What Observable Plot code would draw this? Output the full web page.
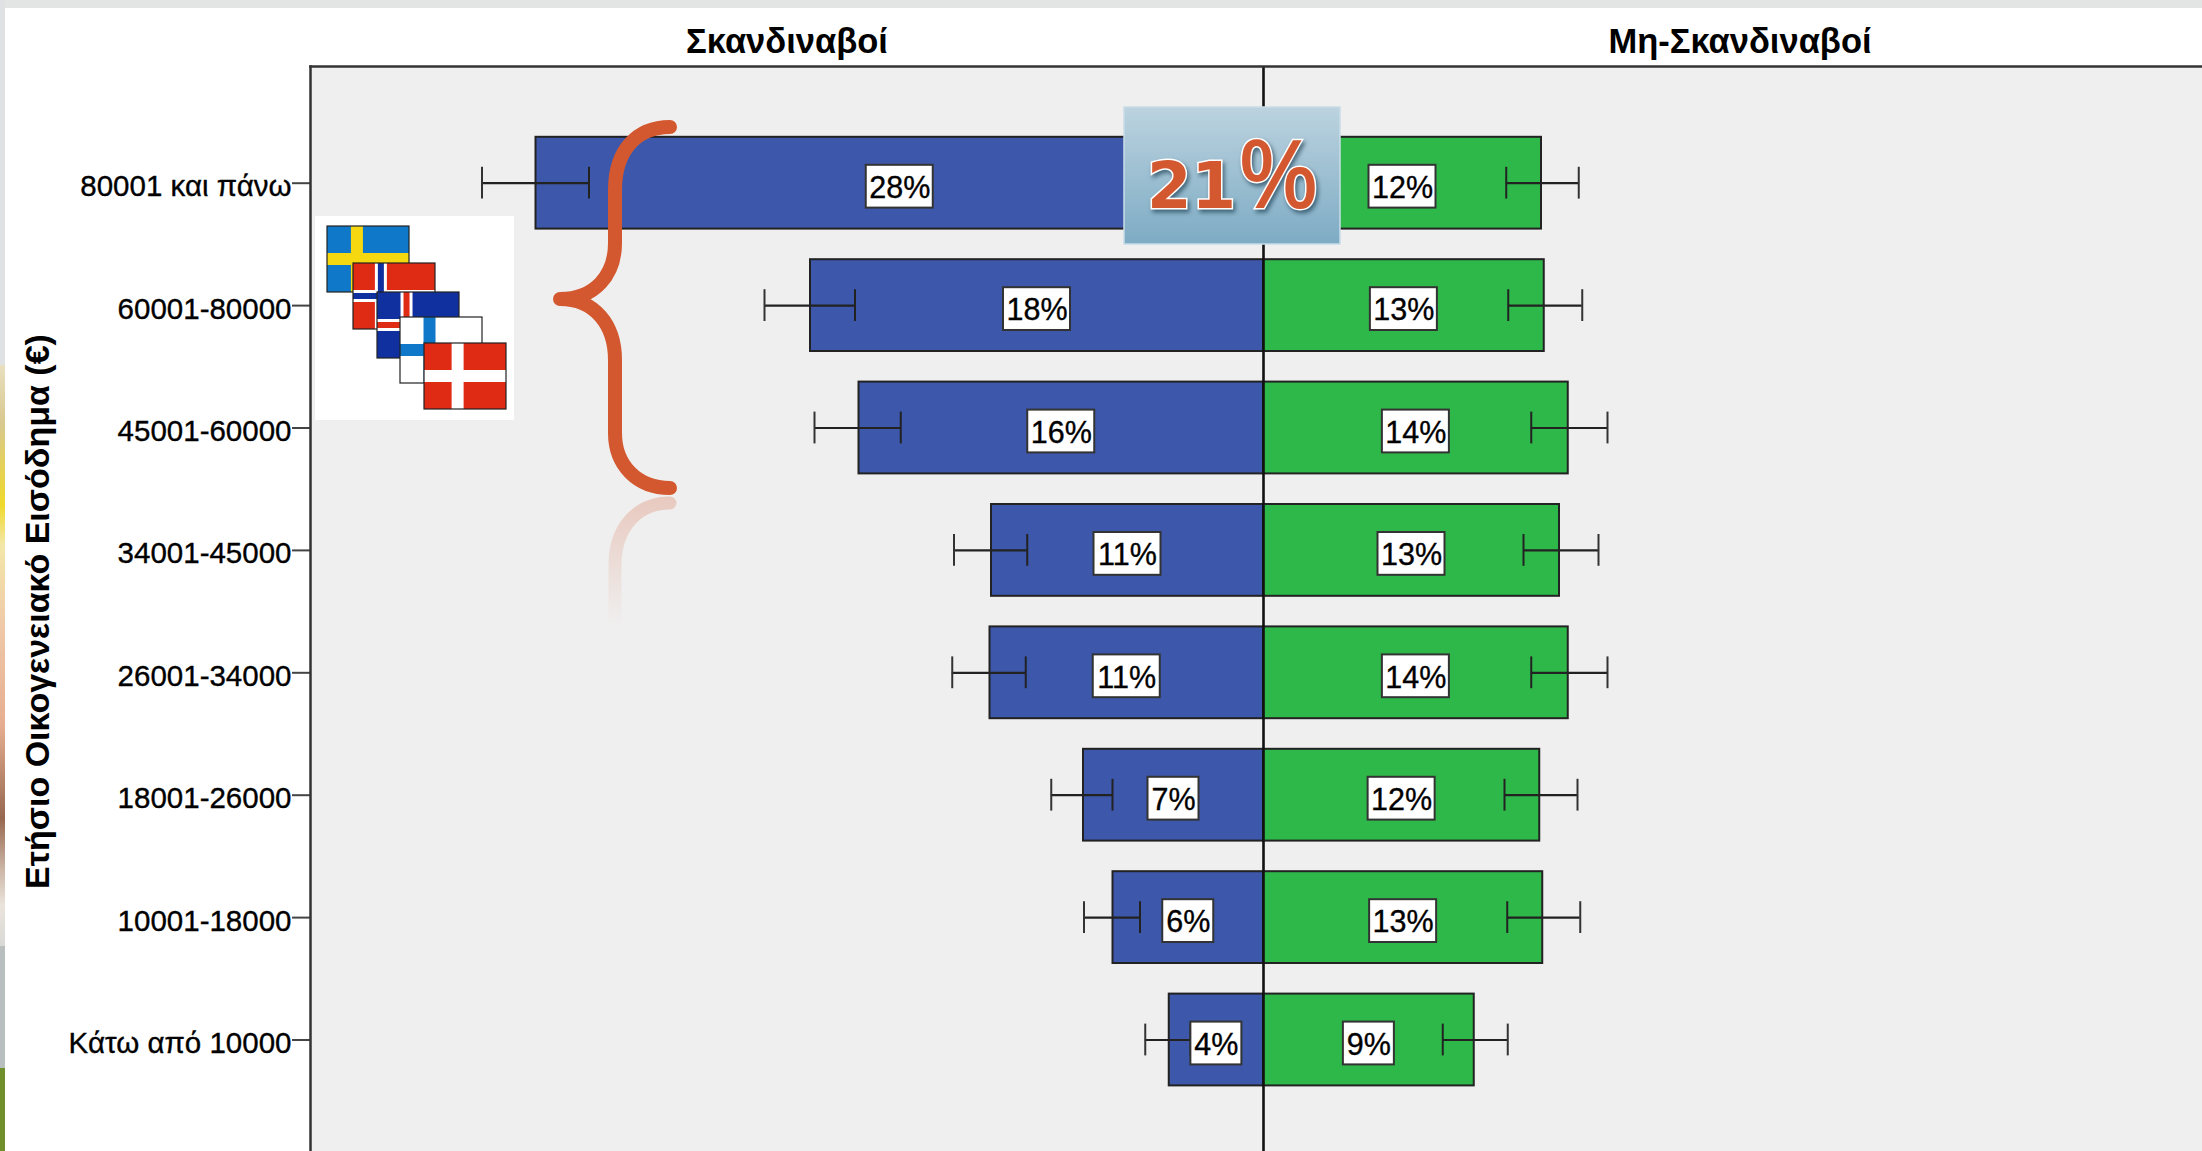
<!DOCTYPE html>
<html>
<head>
<meta charset="utf-8">
<script src="https://cdn.jsdelivr.net/npm/d3@7"></script>
<script src="https://cdn.jsdelivr.net/npm/@observablehq/plot@0.6"></script>
<style>
html,body{margin:0;padding:0;background:#fff;overflow:hidden}
svg{display:block}
</style>
</head>
<body>
<div id="chart"></div>
<script>
const incomeBands = ["80001 και πάνω","60001-80000","45001-60000","34001-45000","26001-34000","18001-26000","10001-18000","Κάτω από 10000"];
const headers = ["Σκανδιναβοί","Μη-Σκανδιναβοί"];
const yTitle = "Ετήσιο Οικογενειακό Εισόδημα (€)";

const nordicBars   = [291,181.2,161.8,108.8,109.4,72,60.2,37.7];
const nordicInner  = [269.8,163.4,145.1,94.5,95.1,60.4,49.4,29.2];
const nordicOuter  = [312.6,199.6,179.6,123.8,124.5,84.9,71.8,47.3];
const nordicLabels = ["28%","18%","16%","11%","11%","7%","6%","4%"];

const otherBars    = [111.2,112.3,121.9,118.4,121.9,110.5,111.7,84.3];
const otherInner   = [97.1,97.9,107.1,104,107.1,96.4,97.5,71.7];
const otherOuter   = [126.1,127.5,137.6,134,137.6,125.6,126.7,97.7];
const otherLabels  = ["12%","13%","14%","13%","14%","12%","13%","9%"];

const axisMax = 381.2;
const FONT = '"Liberation Sans", Arial, sans-serif';

const nordic = incomeBands.map((band,i)=>({band,value:-nordicBars[i],lo:-nordicInner[i],hi:-nordicOuter[i],label:nordicLabels[i]}));
const other  = incomeBands.map((band,i)=>({band,value:otherBars[i],lo:otherInner[i],hi:otherOuter[i],label:otherLabels[i]}));
const rows = nordic.concat(other);
const headerRows = headers.map((text,i)=>({text,x:(i?1:-1)*axisMax/2}));

function decor(){
  const g = d3.create("svg:g");
  const defs = g.append("defs");
  const grad = (id,stops,attrs)=>{
    const l = defs.append("linearGradient").attr("id",id).attr("x1",0).attr("x2",0).attr("y1",0).attr("y2",1);
    if(attrs) for(const k in attrs) l.attr(k,attrs[k]);
    stops.forEach(([o,c,a])=>l.append("stop").attr("offset",o).attr("stop-color",c).attr("stop-opacity",a==null?1:a));
  };
  grad("boxGrad",[[0,"#bcd3df"],[1,"#7dabc4"]]);
  grad("fade",[[0,"#d4582f",.25],[.45,"#d4582f",.14],[1,"#d4582f",0]],{gradientUnits:"userSpaceOnUse",x1:0,x2:0,y1:497,y2:625});
  grad("side",[[0,"#e9dfc0"],[.1,"#d8c88f"],[.24,"#efd92a"],[.31,"#f3e7a8"],[.45,"#efc9a8"],[.62,"#e6ae90"],[.78,"#96684f"],[.87,"#cdb7a8"],[.93,"#eae4dc"],[1,"#d9d9d6"]]);

  // page edges
  const rect=(x,y,w,h,f)=>g.append("rect").attr("x",x).attr("y",y).attr("width",w).attr("height",h).attr("fill",f);
  rect(0,0,2202,8,"#e3e5e5");
  rect(0,0,5,365,"#dfe1e3");
  rect(0,365,5,581,"url(#side)");
  rect(0,946,5,122,"#b9bfbf");
  rect(0,1068,5,83,"#6f8f2a");

  // flags
  rect(315,216,199,204,"#fff");
  const flag=(x,y,bg,outer,inner,vx,hy)=>{
    const w=82,h=66, f=g.append("g").attr("transform",`translate(${x},${y})`);
    const r=(a,b,c,d,col)=>f.append("rect").attr("x",a).attr("y",b).attr("width",c).attr("height",d).attr("fill",col);
    r(0,0,w,h,bg);
    r(vx*w-6,0,12,h,outer); r(0,hy*h-6,w,12,outer);
    if(inner){ r(vx*w-3,0,6,h,inner); r(0,hy*h-3,w,6,inner); }
    f.append("rect").attr("width",w).attr("height",h).attr("fill","none").attr("stroke","#222").attr("stroke-width",1.2);
  };
  flag(327,226,"#1078c8","#f5d80f",null,.365,.5);
  flag(353,263,"#df2a14","#fff","#10309f",.34,.5);
  flag(377,292,"#10309f","#fff","#df2a14",.36,.5);
  flag(400,317,"#fff","#1078c8",null,.36,.5);
  flag(424,343,"#df2a14","#fff",null,.41,.5);

  // brace and reflection
  g.append("path").attr("fill","none").attr("stroke","url(#fade)").attr("stroke-width",13).attr("stroke-linecap","round")
    .attr("d","M670,503 C637,503 615,528 615,565 L615,650");
  g.append("path").attr("fill","none").attr("stroke","#d4582f").attr("stroke-width",14).attr("stroke-linecap","round").attr("stroke-linejoin","round")
    .attr("d","M670,127 C637,127 615,150 615,190 L615,243 C615,275 595,299 560,299 C595,299 615,325 615,360 L615,433 C615,465 637,488 670,488");

  // 21% tile
  g.append("rect").attr("x",1124).attr("y",107).attr("width",216).attr("height",137).attr("fill","url(#boxGrad)").attr("stroke","#c9dde7").attr("stroke-width",1.5);
  const t = g.append("text").attr("x",1147).attr("y",208).attr("text-anchor","start").attr("fill","#d4582f").attr("stroke","#fff").attr("stroke-width",3)
    .attr("paint-order","stroke").style("filter","drop-shadow(2px 3px 2px rgba(0,35,55,.55))")
    .attr("font-family",'"DejaVu Sans"').attr("font-weight","bold").attr("font-size",64);
  t.append("tspan").text("21");
  t.append("tspan").attr("dx",2).attr("font-family",'"Noto Sans"').attr("font-weight","500").attr("font-size",95).text("%");
  return g.node();
}

const barStyle = {stroke:"#222",strokeWidth:2};
const boxStyle = {fill:"#fff",stroke:"#333",strokeWidth:2,insetTop:28,insetBottom:21};

const chart = Plot.plot({
  width:2202,height:1151,
  marginLeft:310,marginTop:66,marginRight:0,marginBottom:0,
  style:{fontFamily:FONT,background:"#fff",color:"#000"},
  x:{domain:[-axisMax,axisMax],range:[310,2216],axis:null},
  y:{domain:incomeBands,range:[106.2,1116],padding:.25,round:false,axis:null},
  marks:[
    Plot.frame({fill:"#efefef",stroke:"none"}),
    Plot.barX(nordic,{x:"value",y:"band",fill:"#3d58aa",...barStyle}),
    Plot.barX(other,{x:"value",y:"band",fill:"#2fb84a",...barStyle}),
    Plot.ruleY(rows,{x1:"lo",x2:"hi",y:"band",stroke:"#222",strokeWidth:2.2}),
    Plot.tickX(rows,{x:"lo",y:"band",stroke:"#222",strokeWidth:2,insetTop:30,insetBottom:30}),
    Plot.tickX(rows,{x:"hi",y:"band",stroke:"#333",strokeWidth:2,insetTop:30,insetBottom:30}),
    Plot.ruleX([0],{stroke:"#111",strokeWidth:2.6}),
    Plot.rect(rows,{x1:d=>d.value/2,x2:d=>d.value/2,y:"band",filter:d=>d.label.length===3,insetLeft:-33.5,insetRight:-33.5,...boxStyle}),
    Plot.rect(rows,{x1:d=>d.value/2,x2:d=>d.value/2,y:"band",filter:d=>d.label.length===2,insetLeft:-25.5,insetRight:-25.5,...boxStyle}),
    Plot.text(rows,{x:d=>d.value/2,y:"band",text:"label",dy:5,fontSize:30.5,fill:"#000",stroke:"#000",strokeWidth:.35}),
    Plot.axisY({anchor:"left",tickSize:18,tickFormat:()=>"",stroke:"#444",strokeWidth:2,label:null}),
    Plot.axisY({anchor:"left",tickSize:0,tickPadding:19,dy:3.5,fontSize:29.5,fill:"#000",textStroke:"#000",textStrokeWidth:.35,label:null}),
    Plot.frame({anchor:"left",stroke:"#333",strokeWidth:2.5}),
    Plot.frame({anchor:"top",stroke:"#333",strokeWidth:2.5}),
    Plot.text(headerRows,{x:"x",text:"text",frameAnchor:"top",dy:-25,lineAnchor:"middle",fontSize:34.5,fontWeight:"bold",fill:"#000"}),
    Plot.text([yTitle],{frameAnchor:"left",dx:-272,dy:2.5,rotate:-90,textAnchor:"middle",lineAnchor:"middle",fontSize:34,fontWeight:"bold",fill:"#000"}),
    decor
  ]
});
document.getElementById("chart").appendChild(chart);
</script>
</body>
</html>
